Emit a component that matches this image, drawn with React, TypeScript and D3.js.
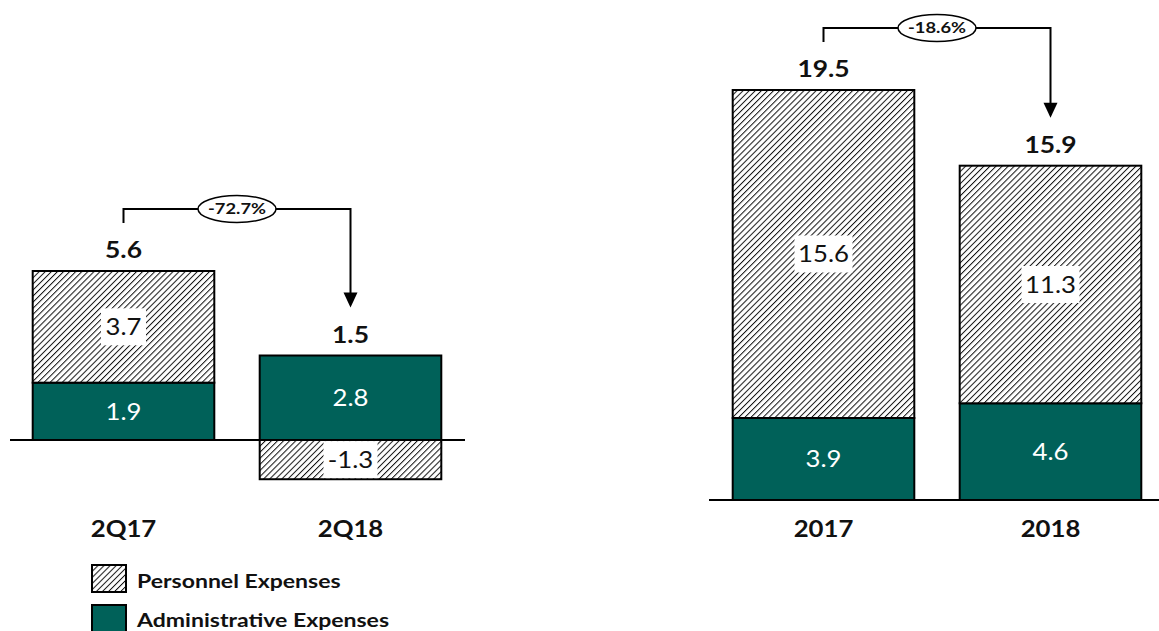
import React from "react";
import * as d3 from "d3";

const quarterCats = ["2Q17", "2Q18"];
const quarterAdmin = [1.9, 2.8];
const quarterPersonnel = [3.7, -1.3];
const quarterTotals = [5.6, 1.5];
const quarterChange = "-72.7%";

const yearCats = ["2017", "2018"];
const yearAdmin = [3.9, 4.6];
const yearPersonnel = [15.6, 11.3];
const yearTotals = [19.5, 15.9];
const yearChange = "-18.6%";

const legendLabels = ["Personnel Expenses", "Administrative Expenses"];

const TEAL = "#006159";
const FONT = "Lato, 'Open Sans', sans-serif";

type STextProps = {
  x: number;
  y: number;
  sx: number;
  size: number;
  bold?: boolean;
  fill?: string;
  anchor?: "start" | "middle" | "end";
  dy?: string;
  children: React.ReactNode;
};

function SText({ x, y, sx, size, bold, fill = "#111", anchor = "middle", dy, children }: STextProps) {
  return (
    <g transform={`translate(${x},${y}) scale(${sx},1)`}>
      <text
        x={0}
        y={0}
        dy={dy}
        textAnchor={anchor}
        fontFamily={FONT}
        fontWeight={bold ? "bold" : "normal"}
        fontSize={size}
        fill={fill}
      >
        {children}
      </text>
    </g>
  );
}

function labelWidth(s: string) {
  let w = 0;
  for (const ch of s) {
    if (ch === ".") w += 7;
    else if (ch === "-") w += 9;
    else w += 13;
  }
  return w + 12;
}

type PanelProps = {
  cats: string[];
  admin: number[];
  personnel: number[];
  totals: number[];
  change: string;
  xRange: [number, number];
  yDomain: [number, number];
  yRange: [number, number];
  axisX: [number, number];
  catY: number;
};

function Panel({ cats, admin, personnel, totals, change, xRange, yDomain, yRange, axisX, catY }: PanelProps) {
  const x = d3.scaleBand<string>().domain(cats).range(xRange).paddingInner(0.2).paddingOuter(0.1);
  const y = d3.scaleLinear().domain(yDomain).range(yRange);
  const rows = cats.map((c, i) => ({ cat: c, admin: admin[i], personnel: personnel[i] }));
  const stack = d3
    .stack<any>()
    .keys(["admin", "personnel"])
    .offset(d3.stackOffsetDiverging);
  const series = stack(rows);
  const bw = x.bandwidth();
  const cx = (c: string) => (x(c) as number) + bw / 2;

  const x1 = cx(cats[0]);
  const x2 = cx(cats[1]);
  const top1 = y(Math.max(totals[0], admin[0]));
  const top2 = y(Math.max(totals[1], admin[1]));
  const hy = top1 - 62;
  const startY = top1 - 48;
  const tipY = top2 - 48;
  const mid = (x1 + x2) / 2;

  return (
    <g>
      {series.map((s) => (
        <g key={s.key}>
          {s.map((d: any, i: number) => {
            const c = cats[i];
            const y0 = y(Math.max(d[0], d[1]));
            const y1 = y(Math.min(d[0], d[1]));
            const isAdmin = s.key === "admin";
            const val = isAdmin ? admin[i] : personnel[i];
            const midY = (y0 + y1) / 2;
            const label = val.toFixed(1);
            const bwLabel = labelWidth(label);
            return (
              <g key={c}>
                <rect
                  x={x(c)}
                  y={y0}
                  width={bw}
                  height={y1 - y0}
                  fill={isAdmin ? TEAL : "url(#hatch)"}
                  stroke="#000"
                  strokeWidth={2}
                />
                {!isAdmin && (
                  <rect x={cx(c) - bwLabel / 2} y={midY - 18.5} width={bwLabel} height={37} fill="#fff" />
                )}
                <SText x={cx(c)} y={midY} dy="0.36em" sx={1.12} size={23} fill={isAdmin ? "#fff" : "#111"}>
                  {label}
                </SText>
              </g>
            );
          })}
        </g>
      ))}
      <line x1={axisX[0]} x2={axisX[1]} y1={y(0)} y2={y(0)} stroke="#000" strokeWidth={2} />
      {cats.map((c, i) => (
        <SText key={"t" + c} x={cx(c)} y={y(Math.max(totals[i], admin[i])) - 13} sx={1.2} size={22} bold>
          {totals[i].toFixed(1)}
        </SText>
      ))}
      {cats.map((c) => (
        <SText key={"c" + c} x={cx(c)} y={catY} sx={1.12} size={23} bold>
          {c}
        </SText>
      ))}
      <path
        d={`M${x1},${startY}V${hy}H${x2}V${tipY - 14}`}
        fill="none"
        stroke="#000"
        strokeWidth={2}
      />
      <path d={`M${x2 - 7},${tipY - 15}L${x2 + 7},${tipY - 15}L${x2},${tipY}Z`} fill="#000" />
      <ellipse cx={mid} cy={hy} rx={39} ry={13.5} fill="#fff" stroke="#000" strokeWidth={1.5} />
      <SText x={mid} y={hy} dy="0.36em" sx={1.22} size={15} bold>
        {change}
      </SText>
    </g>
  );
}

export default function App() {
  return (
    <svg
      width={1159}
      height={631}
      style={{ position: "absolute", left: 0, top: 0, background: "#fff" }}
    >
      <defs>
        <pattern id="hatch" width={4.3} height={4.3} patternUnits="userSpaceOnUse" patternTransform="rotate(45)">
          <rect width={4.3} height={4.3} fill="#fff" />
          <line x1={0} y1={0} x2={0} y2={4.3} stroke="#111" strokeWidth={2} />
        </pattern>
      </defs>
      <Panel
        cats={quarterCats}
        admin={quarterAdmin}
        personnel={quarterPersonnel}
        totals={quarterTotals}
        change={quarterChange}
        xRange={[10, 464]}
        yDomain={[0, 5.6]}
        yRange={[440, 271]}
        axisX={[10, 465]}
        catY={537}
      />
      <Panel
        cats={yearCats}
        admin={yearAdmin}
        personnel={yearPersonnel}
        totals={yearTotals}
        change={yearChange}
        xRange={[710, 1164]}
        yDomain={[0, 19.5]}
        yRange={[500, 90]}
        axisX={[709, 1159]}
        catY={537}
      />
      {legendLabels.map((l, i) => (
        <g key={l}>
          <rect
            x={92}
            y={565 + i * 40}
            width={34}
            height={27}
            fill={i === 0 ? "url(#hatch)" : TEAL}
            stroke="#000"
            strokeWidth={2}
          />
          <SText x={137} y={588 + i * 39} sx={1.28} size={18} bold anchor="start">
            {l}
          </SText>
        </g>
      ))}
    </svg>
  );
}
